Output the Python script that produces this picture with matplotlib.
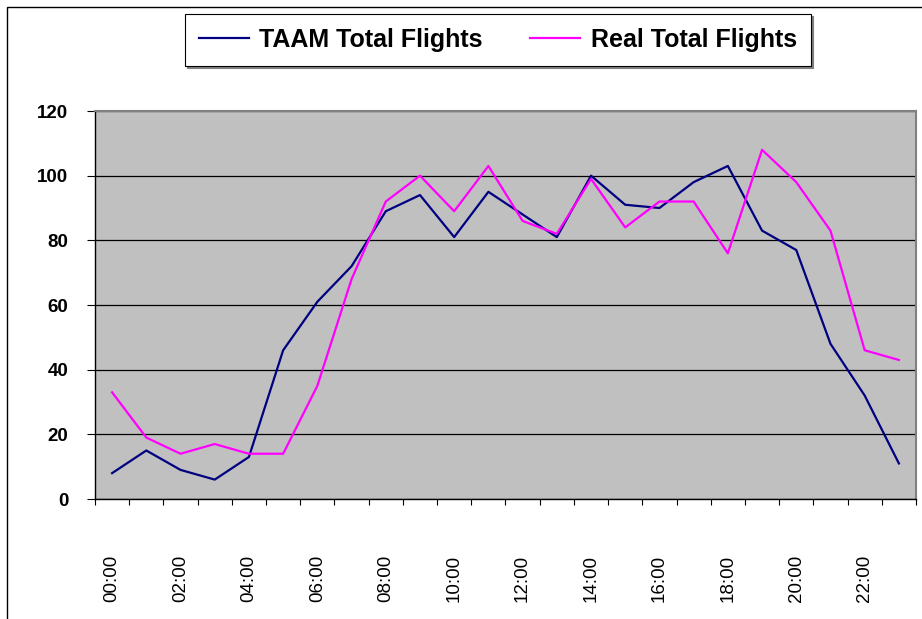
import matplotlib.pyplot as plt
from matplotlib.patches import Rectangle
import numpy as np

# hours of the day
hours = ["%02d:00" % h for h in range(24)]
# flight counts
taam = [8, 15, 9, 6, 13, 46, 61, 72, 89, 94, 81, 95, 88, 81, 100, 91, 90, 98, 103, 83, 77, 48, 32, 11]
real = [33, 19, 14, 17, 14, 14, 35, 68, 92, 100, 89, 103, 86, 82, 99, 84, 92, 92, 76, 108, 98, 83, 46, 43]

plt.rcParams['font.family'] = ['Liberation Sans', 'DejaVu Sans']

fig = plt.figure(figsize=(9.22, 6.19), dpi=100)
ax = fig.add_axes([95/922, 1-499/619, (916-95)/922, (499-111)/619])
ax.set_facecolor('#c0c0c0')

x = np.arange(len(hours))
ax.plot(x, taam, color='#000080', lw=1.6, label='TAAM Total Flights')
ax.plot(x, real, color='#ff00ff', lw=1.6, label='Real Total Flights')

ax.set_ylim(0, 120)
ax.set_xlim(-0.5, 23.5)
ax.set_yticks(range(0, 121, 20))
ax.yaxis.grid(True, color='black', lw=0.9)
ax.set_axisbelow(True)
ax.tick_params(axis='y', direction='out', length=5.8, width=0.8, pad=13.5, labelsize=13.5)
for t in ax.get_yticklabels():
    t.set_fontweight('bold')

ax.set_xticks(x[::2])
ax.set_xticklabels(hours[::2], rotation=90, fontsize=13.5)
ax.set_xticks(np.arange(-0.5, 24, 1), minor=True)
ax.tick_params(axis='x', which='major', length=0, pad=40)
ax.tick_params(axis='x', which='minor', direction='out', length=4, width=0.8)

for s in ['top', 'right']:
    ax.spines[s].set_color('#808080')
    ax.spines[s].set_linewidth(1.5)
for s in ['left', 'bottom']:
    ax.spines[s].set_color('black')
    ax.spines[s].set_linewidth(1.0)

leg = fig.legend(loc='center', bbox_to_anchor=(498/922, 1-40/619), ncol=2,
                 fancybox=False, shadow={'ox': 1.5, 'oy': -1.5, 'color': '#808080', 'alpha': 1},
                 edgecolor='black', framealpha=1,
                 prop={'weight': 'bold', 'size': 18}, handlelength=2.0,
                 columnspacing=1.9, borderpad=0.55, handletextpad=0.42, borderaxespad=0)
leg.get_frame().set_linewidth(0.8)

# chart area border (left and top visible)
fig.patches.append(Rectangle((7/922, -0.1), 1.2, 1.1 - 7/619, transform=fig.transFigure,
                             fill=False, edgecolor='black', lw=1.0))

fig.savefig('out.png', dpi=100)
